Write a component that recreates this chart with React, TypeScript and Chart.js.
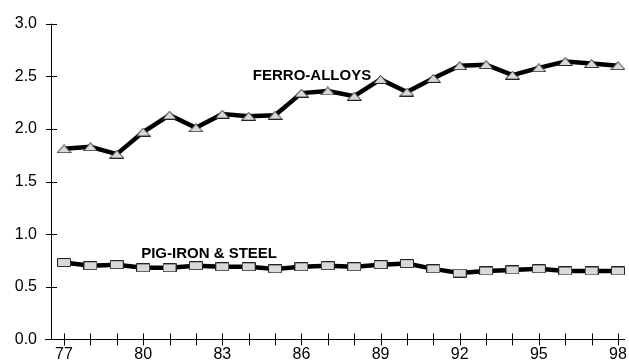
import React, { useEffect, useRef } from 'react';
import { Chart, registerables } from 'chart.js';

Chart.register(...registerables);

const years = [77, 78, 79, 80, 81, 82, 83, 84, 85, 86, 87, 88, 89, 90, 91, 92, 93, 94, 95, 96, 97, 98];
const ferroAlloys = [1.81, 1.83, 1.76, 1.97, 2.13, 2.01, 2.14, 2.12, 2.13, 2.34, 2.36, 2.31, 2.47, 2.35, 2.48, 2.6, 2.61, 2.51, 2.58, 2.64, 2.62, 2.6];
const pigIronSteel = [0.73, 0.7, 0.71, 0.68, 0.68, 0.7, 0.69, 0.69, 0.67, 0.69, 0.7, 0.69, 0.71, 0.72, 0.67, 0.63, 0.65, 0.66, 0.67, 0.65, 0.65, 0.65];
const yTickValues = [0, 0.5, 1.0, 1.5, 2.0, 2.5, 3.0];
const xLabelYears = [77, 80, 83, 86, 89, 92, 95, 98];
const seriesNames = ['FERRO-ALLOYS', 'PIG-IRON & STEEL'];

const FONT = '"Liberation Sans", Arial, sans-serif';

function makeMarker(kind: 'tri' | 'rect'): HTMLCanvasElement {
  const c = document.createElement('canvas');
  const w = kind === 'tri' ? 15 : 14;
  const h = 9;
  c.width = w;
  c.height = h;
  const ctx = c.getContext('2d')!;
  ctx.fillStyle = '#d9d9d9';
  ctx.strokeStyle = '#222';
  ctx.lineWidth = 1;
  ctx.beginPath();
  if (kind === 'tri') {
    ctx.moveTo(w / 2, 0.5);
    ctx.lineTo(w - 0.5, h - 0.5);
    ctx.lineTo(0.5, h - 0.5);
    ctx.closePath();
  } else {
    ctx.rect(0.5, 0.5, w - 1, h - 1);
  }
  ctx.fill();
  ctx.stroke();
  return c;
}

const axesPlugin = {
  id: 'customAxes',
  afterDraw(chart: any) {
    const { ctx, chartArea, scales } = chart;
    const xs = scales.x;
    const ys = scales.y;
    const y0 = ys.getPixelForValue(0);
    const axX = chartArea.left;
    ctx.save();
    ctx.strokeStyle = '#000';
    ctx.lineWidth = 1;
    ctx.beginPath();
    // y axis line
    ctx.moveTo(axX + 0.5, chartArea.top);
    ctx.lineTo(axX + 0.5, y0);
    // x axis line
    ctx.moveTo(axX - 6, Math.round(y0) + 0.5);
    ctx.lineTo(chartArea.right - 4, Math.round(y0) + 0.5);
    // y ticks
    yTickValues.forEach((v) => {
      const p = Math.round(ys.getPixelForValue(v)) + 0.5;
      ctx.moveTo(axX - 5, p);
      ctx.lineTo(axX + 6, p);
    });
    // x ticks
    years.forEach((v) => {
      const p = Math.round(xs.getPixelForValue(v)) + 0.5;
      ctx.moveTo(p, y0 - 6);
      ctx.lineTo(p, y0 + 6);
    });
    ctx.stroke();

    // x tick labels
    ctx.fillStyle = '#000';
    ctx.font = '16px ' + FONT;
    ctx.textAlign = 'center';
    ctx.textBaseline = 'top';
    xLabelYears.forEach((v) => {
      ctx.fillText(String(v), xs.getPixelForValue(v), y0 + 7);
    });

    // series labels
    ctx.font = 'bold 15px ' + FONT;
    ctx.textAlign = 'center';
    ctx.textBaseline = 'middle';
    const anchors = chart.options.plugins.customAxes.anchors;
    seriesNames.forEach((name, i) => {
      const a = anchors[i];
      ctx.fillText(name, xs.getPixelForValue(a.x), ys.getPixelForValue(a.y));
    });
    ctx.restore();
  },
};

export default function App() {
  const ref = useRef<HTMLCanvasElement | null>(null);

  useEffect(() => {
    document.body.style.margin = '0';
    document.body.style.background = '#fff';
    const tri = makeMarker('tri');
    const rect = makeMarker('rect');
    const chart = new Chart(ref.current!, {
      type: 'line',
      data: {
        datasets: [
          {
            label: seriesNames[0],
            data: years.map((y, i) => ({ x: y, y: ferroAlloys[i] })),
            borderColor: '#000',
            borderWidth: 4.5,
            pointStyle: tri,
            pointRadius: 7,
            tension: 0,
            clip: false,
          },
          {
            label: seriesNames[1],
            data: years.map((y, i) => ({ x: y, y: pigIronSteel[i] })),
            borderColor: '#000',
            borderWidth: 4.5,
            pointStyle: rect,
            pointRadius: 7,
            tension: 0,
            clip: false,
          },
        ],
      },
      options: {
        responsive: false,
        animation: false,
        devicePixelRatio: 1,
        layout: { autoPadding: false, padding: { top: 21, left: 0, right: 0, bottom: 0 } },
        plugins: {
          legend: { display: false },
          tooltip: { enabled: false },
          customAxes: { anchors: [{ x: 86.4, y: 2.505 }, { x: 82.5, y: 0.817 }] },
        } as any,
        scales: {
          x: {
            type: 'linear',
            min: 76.507,
            max: 98.417,
            grid: { display: false, drawTicks: false },
            border: { display: false },
            afterFit: (s: any) => {
              s.height = 22;
            },
            afterBuildTicks: (s: any) => {
              s.ticks = years.map((v) => ({ value: v }));
            },
            ticks: { display: false },
          },
          y: {
            type: 'linear',
            min: 0,
            max: 3,
            grid: { display: false, drawTicks: false },
            border: { display: false },
            afterFit: (s: any) => {
              s.width = 51;
            },
            afterBuildTicks: (s: any) => {
              s.ticks = yTickValues.map((v) => ({ value: v }));
            },
            ticks: {
              padding: 14,
              color: '#000',
              font: { family: FONT, size: 16 },
              callback: (v: any) => Number(v).toFixed(1),
            },
          },
        },
      },
      plugins: [axesPlugin],
    });
    return () => chart.destroy();
  }, []);

  return (
    <div style={{ width: 629, height: 363, overflow: 'hidden' }}>
      <canvas ref={ref} width={629} height={363} style={{ display: 'block' }} />
    </div>
  );
}
